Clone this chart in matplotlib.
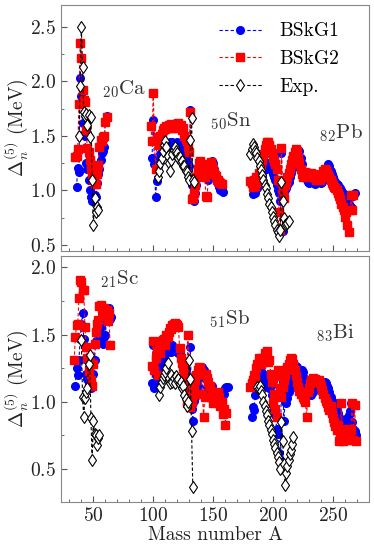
import matplotlib
matplotlib.use("Agg")
import matplotlib.pyplot as plt
import numpy as np
from matplotlib.ticker import MultipleLocator

plt.rcParams["font.family"] = "serif"
plt.rcParams["font.serif"] = ["cmr10", "DejaVu Serif"]
plt.rcParams["mathtext.fontset"] = "cm"
plt.rcParams["axes.formatter.use_mathtext"] = True

# ---- top panel: Ca, Sn, Pb ----
A_ca_g1 = list(range(36, 62))
ca_g1 = [1.03, 1.21, 1.17, 2.03, 1.87, 1.62, 1.52, 1.50, 1.25, 1.20, 1.10, 1.00, 0.94,
         0.90, 0.96, 0.96, 0.94, 1.07, 1.15, 1.20, 1.28, 1.34, 1.36, 1.40, 1.63, 1.68]
A_ca_g2 = list(range(35, 62))
ca_g2 = [1.31, 1.32, 1.38, 1.79, 2.35, 2.21, 1.92, 1.83, 1.81, 1.55, 1.39, 1.35, 1.28, 1.20,
         1.15, 1.10, 1.06, 1.06, 1.15, 1.23, 1.40, 1.46, 1.45, 1.49, 1.50, 1.63, 1.67]
A_ca_exp = list(range(38, 55))
ca_exp = [1.50, 1.96, 2.50, 2.13, 1.72, 1.68, 1.70, 1.60, 1.69, 1.49, 1.67, 1.10, 0.68,
          0.93, 0.80, 0.85, 0.82]

A_sn_g1 = list(range(99, 159))
sn_g1 = [1.30, 1.65, 1.24, 0.94, 1.09, 1.22, 1.28, 1.33, 1.36, 1.38, 1.40, 1.42, 1.40, 1.43,
         1.41, 1.44, 1.42, 1.44, 1.40, 1.43, 1.41, 1.44, 1.40, 1.42, 1.38, 1.40, 1.35, 1.37,
         1.30, 1.28, 1.25, 1.22, 1.74, 1.05, 0.92, 0.90, 0.98, 1.05, 1.14, 1.20, 1.24, 1.20,
         1.22, 1.16, 1.18, 1.12, 1.15, 1.10, 1.20, 1.25, 1.27, 1.25, 1.20, 1.15, 1.10, 1.06,
         1.03, 1.00, 1.00, 0.99]
A_sn_g2 = list(range(98, 158))
sn_g2 = [1.59, 1.45, 1.89, 1.45, 1.20, 1.47, 1.49, 1.42, 1.50, 1.52, 1.55, 1.57, 1.56, 1.59,
         1.57, 1.60, 1.58, 1.61, 1.57, 1.60, 1.57, 1.61, 1.59, 1.62, 1.58, 1.60, 1.55, 1.57,
         1.50, 1.47, 1.45, 1.40, 1.35, 1.72, 0.92, 0.93, 0.98, 1.05, 1.12, 1.20, 1.25, 1.27,
         1.22, 1.24, 1.18, 1.12, 0.95, 0.94, 1.15, 1.24, 1.26, 1.22, 1.19, 1.16, 1.13, 1.10,
         1.10, 1.08, 1.07, 1.06]
A_sn_exp = list(range(104, 135))
sn_exp = [1.12, 1.18, 1.25, 1.30, 1.36, 1.42, 1.45, 1.40, 1.32, 1.25, 1.18, 1.28, 1.33,
          1.37, 1.40, 1.36, 1.34, 1.30, 1.31, 1.26, 1.27, 1.22, 1.22, 1.18, 1.17, 1.12,
          1.10, 1.46, 1.66, 1.10, 1.08]

A_pb_g1 = list(range(181, 269))
pb_g1 = [1.08, 1.05, 0.97, 1.03, 0.98, 1.05, 1.02, 1.10, 1.08, 1.15, 1.12, 1.18, 1.22,
         1.20, 1.25, 1.23, 1.25, 1.20, 1.18, 1.15, 1.12, 1.10, 1.05, 1.00, 0.98, 0.90,
         1.34, 0.63, 1.07, 1.00, 1.02, 1.05, 1.08, 1.12, 1.16, 1.20, 1.24, 1.28, 1.32,
         1.35, 1.37, 1.36, 1.30, 1.24, 1.18, 1.14, 1.12, 1.10, 1.08, 1.07, 1.08, 1.10,
         1.09, 1.07, 1.06, 1.07, 1.08, 1.09, 1.08, 1.07, 1.08, 1.10, 1.12, 1.15, 1.20,
         1.24, 1.22, 1.18, 1.15, 1.12, 1.10, 1.08, 1.06, 1.05, 1.03, 1.02, 1.00, 0.98,
         0.96, 0.94, 0.92, 0.90, 0.88, 0.86, 0.85, 0.84, 0.95, 0.98]
A_pb_g2 = list(range(181, 268))
pb_g2 = [1.09, 1.07, 1.03, 1.10, 1.04, 1.12, 1.08, 1.16, 1.15, 1.22, 1.28, 1.33, 1.38,
         1.42, 1.44, 1.44, 1.42, 1.38, 1.34, 1.30, 1.27, 1.24, 1.20, 1.10, 0.80, 0.64,
         1.39, 1.00, 0.93, 1.05, 1.08, 1.12, 1.16, 1.20, 1.24, 1.28, 1.32, 1.35, 1.38,
         1.36, 1.30, 1.25, 1.20, 1.15, 1.12, 1.14, 1.17, 1.16, 1.15, 1.12, 1.14, 1.16,
         1.15, 1.12, 1.11, 1.10, 1.12, 1.11, 1.10, 1.12, 1.15, 1.18, 1.20, 1.19, 1.16,
         1.14, 1.12, 1.10, 1.07, 1.05, 1.03, 1.02, 1.00, 0.98, 0.95, 0.92, 0.88, 0.85,
         0.82, 0.76, 0.80, 0.68, 0.62, 0.82, 0.96, 0.82, 0.96]
A_pb_exp = list(range(181, 214))
pb_exp = [1.33, 1.38, 1.43, 1.40, 1.36, 1.34, 1.30, 1.27, 1.22, 1.19, 1.14, 1.10, 1.05,
          1.02, 0.97, 0.93, 0.88, 0.85, 0.80, 0.76, 0.72, 0.68, 0.64, 0.62, 0.58, 0.64,
          1.08, 0.90, 0.75, 0.68, 0.69, 0.70, 0.72]

# ---- bottom panel: Sc, Sb, Bi ----
A_sc_g1 = list(range(35, 66))
sc_g1 = [1.12, 1.25, 1.20, 1.31, 1.47, 1.58, 1.66, 1.47, 1.32, 1.21, 1.17, 1.14, 1.20,
         1.10, 1.12, 1.21, 1.31, 1.45, 1.58, 1.53, 1.52, 1.56, 1.47, 1.43, 1.48, 1.50,
         1.60, 1.65, 1.70, 1.62, 1.63]
A_sc_g2 = list(range(34, 65))
sc_g2 = [1.31, 1.48, 1.57, 1.58, 1.77, 1.91, 1.89, 1.83, 1.83, 1.56, 1.41, 1.33, 1.23,
         1.30, 1.16, 1.12, 1.28, 1.43, 1.52, 1.58, 1.61, 1.71, 1.72, 1.69, 1.67, 1.70,
         1.64, 1.68, 1.60, 1.66, 1.42]
A_sc_exp = list(range(40, 56))
sc_exp = [1.46, 1.04, 0.89, 1.03, 1.07, 1.10, 1.28, 1.35, 0.88, 0.57, 0.86, 0.76, 0.75,
          0.68, 0.73, 0.75]

A_sb_g1 = list(range(99, 163))
sb_g1 = [1.14, 1.42, 1.10, 1.20, 1.25, 1.15, 1.28, 1.22, 1.30, 1.33, 1.35, 1.37, 1.36,
         1.39, 1.38, 1.40, 1.37, 1.42, 1.39, 1.40, 1.38, 1.40, 1.36, 1.38, 1.34, 1.32,
         1.30, 1.26, 1.24, 1.15, 1.10, 1.01, 1.41, 0.95, 0.86, 1.01, 1.04, 1.06, 1.12,
         1.18, 1.22, 1.24, 1.26, 1.24, 1.19, 1.17, 1.11, 1.14, 1.10, 1.07, 1.12, 1.04,
         1.08, 1.01, 1.03, 1.00, 1.02, 1.06, 1.04, 1.08, 1.06, 1.10, 1.11, 1.11]
A_sb_g2 = list(range(99, 162))
sb_g2 = [1.27, 1.45, 1.24, 1.33, 1.38, 1.20, 1.43, 1.36, 1.45, 1.46, 1.47, 1.42, 1.50,
         1.48, 1.52, 1.55, 1.54, 1.57, 1.58, 1.59, 1.58, 1.57, 1.56, 1.40, 1.33, 1.29,
         1.25, 1.20, 1.12, 0.99, 1.50, 1.05, 0.96, 1.00, 1.05, 1.11, 1.16, 1.20, 1.24,
         1.26, 1.25, 1.22, 1.06, 0.89, 1.04, 1.21, 1.18, 1.15, 1.12, 1.04, 1.08, 0.99,
         1.03, 1.06, 1.02, 1.07, 1.04, 0.97, 1.00, 0.91, 0.95, 0.83, 0.92]
A_sb_exp = list(range(105, 134))
sb_exp = [1.05, 1.11, 1.15, 1.18, 1.20, 1.22, 1.25, 1.29, 1.18, 1.14, 1.20, 1.15, 1.18,
          1.14, 1.19, 1.16, 1.17, 1.13, 1.15, 1.10, 1.12, 1.05, 1.02, 0.97, 1.00, 1.31,
          1.17, 0.78, 0.37]

A_bi_g1 = list(range(182, 270))
bi_g1 = [0.89, 0.96, 0.94, 1.05, 1.10, 1.15, 1.24, 1.21, 1.23, 1.19, 1.21, 1.16, 1.18,
         1.12, 1.15, 1.10, 1.12, 1.05, 1.00, 0.95, 0.90, 0.80, 0.76, 0.62, 0.57, 1.21,
         1.15, 0.86, 1.00, 0.99, 1.03, 1.07, 1.10, 1.14, 1.18, 1.21, 1.24, 1.27, 1.26,
         1.24, 1.22, 1.20, 1.24, 1.22, 1.18, 1.15, 1.12, 1.10, 1.08, 1.06, 1.05, 1.07,
         1.10, 1.12, 1.14, 1.13, 1.12, 1.14, 1.12, 1.11, 1.13, 1.15, 1.14, 1.12, 1.10,
         1.07, 1.04, 1.01, 1.00, 0.98, 0.96, 0.94, 0.92, 0.89, 0.87, 0.85, 0.82, 0.80,
         0.81, 0.85, 0.88, 0.90, 0.93, 0.99, 0.85, 0.80, 0.78, 0.75]
A_bi_g2 = list(range(181, 270))
bi_g2 = [1.11, 1.14, 1.16, 1.20, 1.18, 1.25, 1.28, 1.33, 1.31, 1.28, 1.33, 1.30, 1.36,
         1.31, 1.38, 1.30, 1.31, 1.21, 1.15, 0.99, 1.06, 0.95, 0.89, 1.24, 1.19, 1.10,
         1.04, 1.11, 1.16, 1.20, 1.24, 1.26, 1.28, 1.31, 1.33, 1.32, 1.28, 1.24, 1.19,
         1.15, 1.11, 1.08, 1.06, 1.06, 1.04, 1.02, 1.00, 0.89, 1.07, 1.10, 1.14, 1.16,
         1.18, 1.16, 1.17, 1.16, 1.15, 1.16, 1.14, 1.12, 1.09, 1.06, 1.03, 1.01, 0.99,
         0.96, 0.94, 0.97, 0.92, 0.88, 0.85, 0.82, 0.79, 0.83, 0.71, 0.76, 0.99, 0.71,
         0.80, 0.75, 0.73, 0.72, 0.74, 0.78, 0.80, 0.99, 0.72, 0.98, 0.71]
A_bi_exp = list(range(187, 218))
bi_exp = [1.11, 1.10, 1.12, 1.08, 1.05, 1.00, 0.97, 0.93, 0.90, 0.86, 0.83, 0.79, 0.76,
          0.72, 0.69, 0.66, 0.62, 0.59, 0.55, 0.50, 0.85, 0.71, 0.54, 0.38, 0.47, 0.52,
          0.57, 0.61, 0.64, 0.69, 0.74]

top_chains = [(A_ca_g1, ca_g1, A_ca_g2, ca_g2, A_ca_exp, ca_exp),
              (A_sn_g1, sn_g1, A_sn_g2, sn_g2, A_sn_exp, sn_exp),
              (A_pb_g1, pb_g1, A_pb_g2, pb_g2, A_pb_exp, pb_exp)]
bot_chains = [(A_sc_g1, sc_g1, A_sc_g2, sc_g2, A_sc_exp, sc_exp),
              (A_sb_g1, sb_g1, A_sb_g2, sb_g2, A_sb_exp, sb_exp),
              (A_bi_g1, bi_g1, A_bi_g2, bi_g2, A_bi_exp, bi_exp)]

top_labels = [(76, 1.93, r"$_{20}$Ca"), (165, 1.635, r"$_{50}$Sn"), (257, 1.525, r"$_{82}$Pb")]
bot_labels = [(72, 1.91, r"$_{21}$Sc"), (164, 1.615, r"$_{51}$Sb"), (252, 1.51, r"$_{83}$Bi")]

fig = plt.figure(figsize=(3.74, 5.49), dpi=100)
ax1 = fig.add_axes([0.163, 0.5428, 0.8235, 0.448])
ax2 = fig.add_axes([0.163, 0.0856, 0.8235, 0.448])

fs = 14


def draw(ax, chains, labels):
    for i, (a1, v1, a2, v2, ae, ve) in enumerate(chains):
        ax.plot(a1, v1, "--", color="blue", lw=0.8, marker="o", ms=5.5, mec="blue",
                dashes=(3, 2), label="BSkG1" if i == 0 else None, zorder=2)
        ax.plot(a2, v2, "--", color="red", lw=0.8, marker="s", ms=5.5, mec="red",
                dashes=(3, 2), label="BSkG2" if i == 0 else None, zorder=3)
        ax.plot(ae, ve, "--", color="black", lw=0.8, marker="d", ms=6,
                mfc="white", mec="black", mew=0.8, dashes=(3, 2),
                label="Exp." if i == 0 else None, zorder=4)
    for x, y, s in labels:
        ax.text(x, y, s, fontsize=fs + 1, color="#333333", ha="center", va="center")
    ax.set_xlim(23, 280)
    ax.xaxis.set_major_locator(MultipleLocator(50))
    ax.xaxis.set_minor_locator(MultipleLocator(10))
    ax.yaxis.set_major_locator(MultipleLocator(0.5))
    ax.yaxis.set_minor_locator(MultipleLocator(0.25))
    ax.tick_params(which="both", direction="in", labelsize=fs, color="#555555",
                   labelcolor="#222222")
    ax.tick_params(which="major", length=4)
    ax.tick_params(which="minor", length=2)
    for sp in ax.spines.values():
        sp.set_color("#888888")
    ax.set_ylabel(r"$\Delta_n^{(5)}$ (MeV)", fontsize=fs, color="#222222")


draw(ax1, top_chains, top_labels)
draw(ax2, bot_chains, bot_labels)
ax1.set_ylim(0.445, 2.7)
ax2.set_ylim(0.255, 2.085)
ax1.tick_params(labelbottom=False)
ax2.set_xlabel("Mass number A", fontsize=fs, labelpad=1, color="#222222")
for ax in (ax1, ax2):
    ax.yaxis.set_label_coords(-0.1, 0.5)

ax1.legend(loc="upper right", bbox_to_anchor=(0.96, 1.0), fontsize=fs, frameon=False,
           handlelength=2.2, handletextpad=0.9, labelspacing=0.5, borderaxespad=0.5)

fig.savefig("out.png", dpi=100)
